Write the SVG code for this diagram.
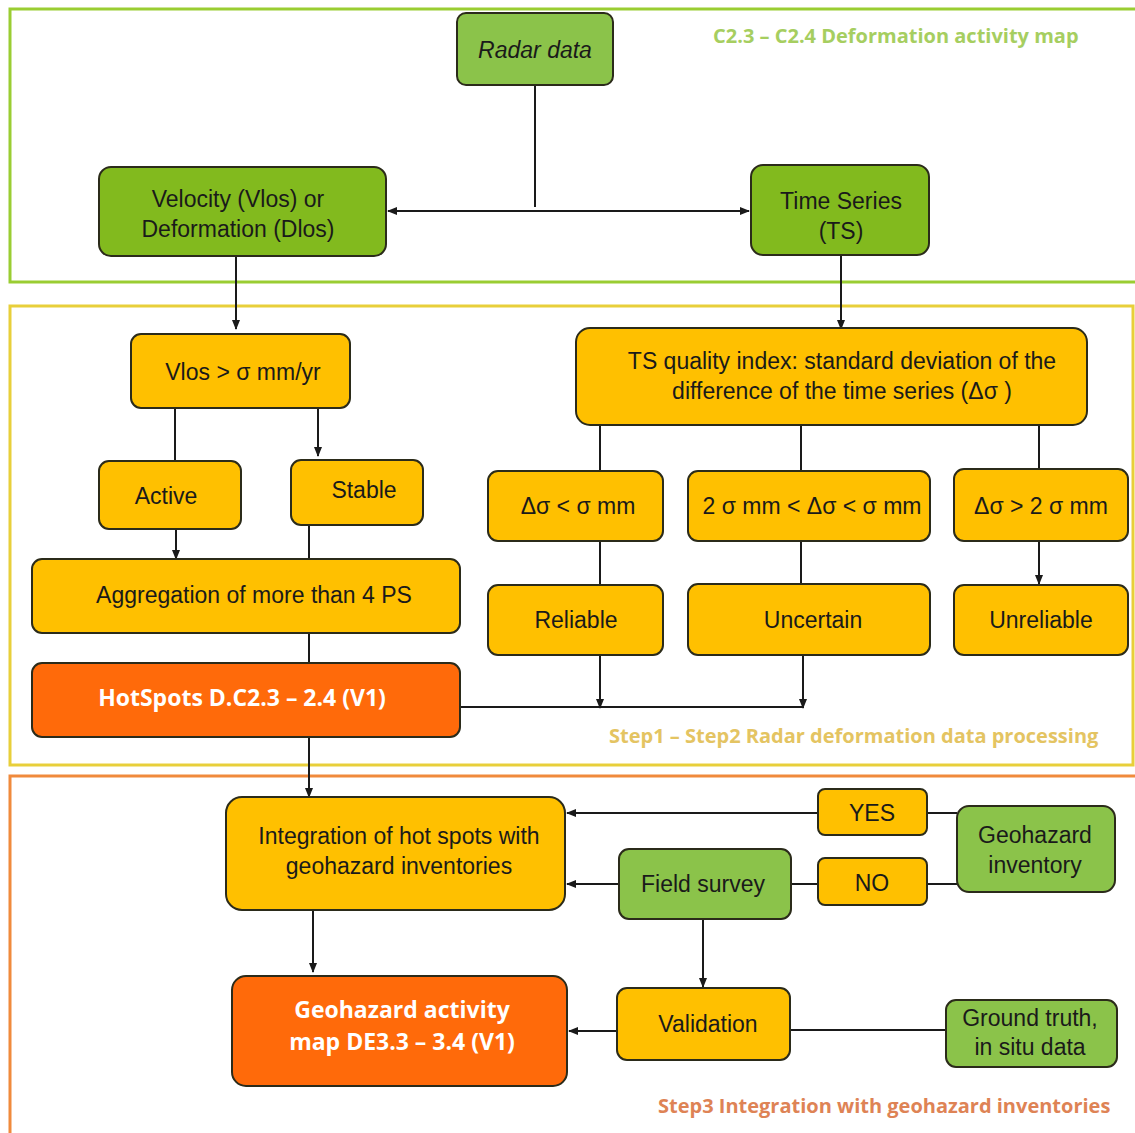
<svg xmlns="http://www.w3.org/2000/svg" width="1135" height="1133" viewBox="0 0 1135 1133">
<style>
.t{font-family:"Liberation Sans",Arial,sans-serif;font-size:23px;fill:#1a1a1a;text-anchor:middle}
.w{font-family:"Open Sans","Liberation Sans",sans-serif;font-size:23px;font-weight:bold;fill:#ffffff;text-anchor:middle}
.box{stroke:#2b2b1a;stroke-width:2}
.y{fill:#FFC000}
.g{fill:#8BC34A}
.gd{fill:#82BA1E}
.o{fill:#FF6A0A}
.c{stroke:#1a1a1a;stroke-width:2;fill:none}
.lbl{font-family:"Open Sans","Liberation Sans",sans-serif;font-size:20px;font-weight:bold}
</style>
<defs>
<marker id="ah" markerWidth="10" markerHeight="10" refX="9" refY="5" orient="auto" markerUnits="userSpaceOnUse">
<path d="M0,1 L10,5 L0,9 Z" fill="#1a1a1a"/>
</marker>
<marker id="as" markerWidth="10" markerHeight="10" refX="1" refY="5" orient="auto" markerUnits="userSpaceOnUse">
<path d="M10,1 L0,5 L10,9 Z" fill="#1a1a1a"/>
</marker>
</defs>
<rect width="1135" height="1133" fill="#ffffff"/>
<g id="sections">
<rect x="10" y="9" width="1140" height="273" fill="none" stroke="#9ACD32" stroke-width="3"/>
<rect x="10" y="306" width="1123" height="459" fill="none" stroke="#E8CF3A" stroke-width="3"/>
<path d="M10,1140 L10,776 L1140,776" fill="none" stroke="#F08A3C" stroke-width="3"/>
<text class="lbl" x="713" y="43" fill="#A6CE60">C2.3 – C2.4 Deformation activity map</text>
<text class="lbl" x="609" y="743" fill="#E4C462">Step1 – Step2 Radar deformation  data processing</text>
<text class="lbl" x="658" y="1113" fill="#DE8355">Step3 Integration  with geohazard inventories</text>
</g>
<g id="connectors">
<path class="c" d="M535,85 V207"/>
<path class="c" d="M388,211 H749" marker-start="url(#as)" marker-end="url(#ah)"/>
<path class="c" d="M236,256 V329" marker-end="url(#ah)"/>
<path class="c" d="M841,255 V329" marker-end="url(#ah)"/>
<path class="c" d="M175,408 V461"/>
<path class="c" d="M318,408 V456" marker-end="url(#ah)"/>
<path class="c" d="M176,529 V559" marker-end="url(#ah)"/>
<path class="c" d="M309,525 V559"/>
<path class="c" d="M309,633 V663"/>
<path class="c" d="M309,737 V797" marker-end="url(#ah)"/>
<path class="c" d="M460,707 H803"/>
<path class="c" d="M600,425 V471"/>
<path class="c" d="M801,425 V471"/>
<path class="c" d="M1039,425 V469"/>
<path class="c" d="M600,541 V585"/>
<path class="c" d="M801,541 V584"/>
<path class="c" d="M1039,541 V584" marker-end="url(#ah)"/>
<path class="c" d="M600,655 V708" marker-end="url(#ah)"/>
<path class="c" d="M803,655 V708" marker-end="url(#ah)"/>
<path class="c" d="M818,813 H567" marker-end="url(#ah)"/>
<path class="c" d="M927,813 H957"/>
<path class="c" d="M619,884 H567" marker-end="url(#ah)"/>
<path class="c" d="M791,884 H818"/>
<path class="c" d="M927,884 H957"/>
<path class="c" d="M313,910 V972" marker-end="url(#ah)"/>
<path class="c" d="M703,919 V987" marker-end="url(#ah)"/>
<path class="c" d="M617,1031 H569" marker-end="url(#ah)"/>
<path class="c" d="M790,1030 H946"/>
</g>
<g id="radar"><rect class="box g" x="457" y="13" width="156" height="72" rx="9"/><text class="t" x="535" y="58" font-style="italic">Radar data</text></g>
<g id="velocity"><rect class="box gd" x="99" y="167" width="287" height="89" rx="12"/><text class="t" x="238" y="207">Velocity (Vlos) or</text><text class="t" x="238" y="237">Deformation (Dlos)</text></g>
<g id="timeseries"><rect class="box gd" x="751" y="165" width="178" height="90" rx="12"/><text class="t" x="841" y="209">Time Series</text><text class="t" x="841" y="239">(TS)</text></g>
<g id="vlos"><rect class="box y" x="131" y="334" width="219" height="74" rx="10"/><text class="t" x="243" y="380">Vlos &gt; σ mm/yr</text></g>
<g id="active"><rect class="box y" x="99" y="461" width="142" height="68" rx="10"/><text class="t" x="166" y="504">Active</text></g>
<g id="stable"><rect class="box y" x="291" y="460" width="132" height="65" rx="10"/><text class="t" x="364" y="498">Stable</text></g>
<g id="aggregation"><rect class="box y" x="32" y="559" width="428" height="74" rx="10"/><text class="t" x="254" y="603">Aggregation of more than 4 PS</text></g>
<g id="hotspots"><rect class="box o" x="32" y="663" width="428" height="74" rx="10"/><text class="w" x="242" y="706">HotSpots D.C2.3 – 2.4 (V1)</text></g>
<g id="tsquality"><rect class="box y" x="576" y="328" width="511" height="97" rx="14"/><text class="t" x="842" y="369">TS quality index: standard deviation of the</text><text class="t" x="842" y="399">difference of the time series (Δσ )</text></g>
<g id="d1"><rect class="box y" x="488" y="471" width="175" height="70" rx="10"/><text class="t" x="578" y="514">Δσ &lt; σ mm</text></g>
<g id="d2"><rect class="box y" x="688" y="471" width="242" height="70" rx="10"/><text class="t" x="812" y="514">2 σ mm &lt; Δσ &lt; σ mm</text></g>
<g id="d3"><rect class="box y" x="954" y="469" width="174" height="72" rx="10"/><text class="t" x="1041" y="514">Δσ &gt;  2 σ mm</text></g>
<g id="reliable"><rect class="box y" x="488" y="585" width="175" height="70" rx="10"/><text class="t" x="576" y="628">Reliable</text></g>
<g id="uncertain"><rect class="box y" x="688" y="584" width="242" height="71" rx="10"/><text class="t" x="813" y="628">Uncertain</text></g>
<g id="unreliable"><rect class="box y" x="954" y="585" width="174" height="70" rx="10"/><text class="t" x="1041" y="628">Unreliable</text></g>
<g id="integration"><rect class="box y" x="226" y="797" width="339" height="113" rx="16"/><text class="t" x="399" y="844">Integration of hot spots with</text><text class="t" x="399" y="874">geohazard inventories</text></g>
<g id="yes"><rect class="box y" x="818" y="789" width="109" height="46" rx="7"/><text class="t" x="872" y="821">YES</text></g>
<g id="no"><rect class="box y" x="818" y="858" width="109" height="47" rx="7"/><text class="t" x="872" y="891">NO</text></g>
<g id="geoinv"><rect class="box g" x="957" y="806" width="158" height="86" rx="12"/><text class="t" x="1035" y="843">Geohazard</text><text class="t" x="1035" y="873">inventory</text></g>
<g id="fieldsurvey"><rect class="box g" x="619" y="849" width="172" height="70" rx="10"/><text class="t" x="703" y="892">Field survey</text></g>
<g id="geomap"><rect class="box o" x="232" y="976" width="335" height="110" rx="14"/><text class="w" x="402" y="1018">Geohazard  activity</text><text class="w" x="402" y="1050">map DE3.3 – 3.4 (V1)</text></g>
<g id="validation"><rect class="box y" x="617" y="988" width="173" height="72" rx="10"/><text class="t" x="708" y="1032">Validation</text></g>
<g id="groundtruth"><rect class="box g" x="946" y="1000" width="171" height="67" rx="10"/><text class="t" x="1030" y="1026">Ground truth,</text><text class="t" x="1030" y="1055">in situ data</text></g>
</svg>
